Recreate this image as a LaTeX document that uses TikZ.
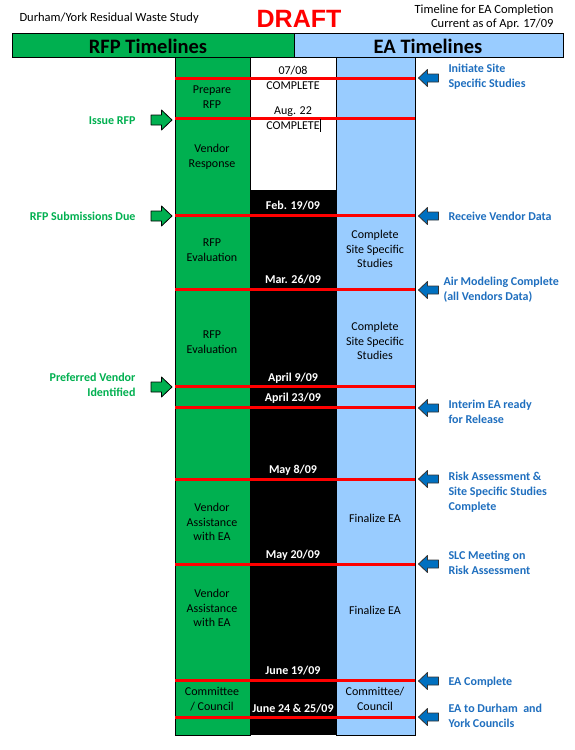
\documentclass[tikz,border=0pt]{standalone}
\usepackage{fontspec}
\setmainfont{Carlito}
\newfontfamily\draftfont{Liberation Sans}

\definecolor{rfpgreen}{RGB}{0,176,80}
\definecolor{eablue}{RGB}{153,204,255}
\definecolor{notblue}{RGB}{31,111,191}
\definecolor{arrblue}{RGB}{0,112,192}

\begin{document}
\begin{tikzpicture}[x=1pt, y=-1pt,
    phase/.style={font=\fontsize{12}{14.5}\selectfont, align=center, text=black},
    datelbl/.style={font=\fontsize{12}{14.5}\selectfont\bfseries, text=white},
    rfpnote/.style={font=\fontsize{12}{15}\selectfont\bfseries, text=rfpgreen, align=right, anchor=east},
    eanote/.style={font=\fontsize{12}{15}\selectfont\bfseries, text=notblue, align=left, anchor=west},
    garrow/.pic={\draw[black, thick, fill=rfpgreen, line join=round]
      (-10.5,-5) -- (0,-5) -- (0,-10) -- (10.5,0) -- (0,10) -- (0,5) -- (-10.5,5) -- cycle;},
    barrow/.pic={\draw[black!80, thick, fill=arrblue, line join=round]
      (10,-4) -- (-1,-4) -- (-1,-8.5) -- (-10,0) -- (-1,8.5) -- (-1,4) -- (10,4) -- cycle;},
  ]
    %% page frame
    \useasboundingbox (0,0) rectangle (575,750);
    \fill[white] (0,0) rectangle (575,750);

    %% --- heading ---
    \node[font=\fontsize{12.5}{14}\selectfont, anchor=west] (study) at (16,18)
      {Durham/York Residual Waste Study};
    \node[font=\draftfont\fontsize{25}{28}\selectfont\bfseries, text=red] (draft) at (299,19) {DRAFT};
    \node[font=\fontsize{12.5}{14}\selectfont, align=right, anchor=east] (asof) at (557,17)
      {Timeline for EA Completion\\Current as of Apr. 17/09};

    \fill[rfpgreen, draw=black, thin] (12,33) rectangle (294,57);
    \fill[eablue, draw=black, thin] (294,33) rectangle (563,57);
    \node[font=\fontsize{20.5}{22}\selectfont\bfseries] (rfphead) at (148,46) {RFP Timelines};
    \node[font=\fontsize{20.5}{22}\selectfont\bfseries] (eahead) at (428,46) {EA Timelines};

    %% --- columns ---
    \fill[rfpgreen, draw=black, thin] (175,57) rectangle (250,735);
    \fill[white, draw=black, thin] (250,57) rectangle (336,190);
    \fill[black] (250,190) rectangle (336,735);
    \fill[eablue, draw=black, thin] (336,57) rectangle (415,735);

    %% --- milestone lines ---
    \foreach \y in {78,118,215,289,386,407,479,564,680,717}
      \draw[red, line width=3pt] (175,\y) -- (415,\y);

    %% --- RFP phases ---
    \node[phase] (prep) at (212,97) {Prepare\\RFP};
    \node[phase] (vresp) at (212,157) {Vendor\\Response};
    \node[phase] (eval1) at (212,250) {RFP\\Evaluation};
    \node[phase] (eval2) at (212,342) {RFP\\Evaluation};
    \node[phase] (assist1) at (212,522) {Vendor\\Assistance\\with EA};
    \node[phase] (assist2) at (212,608) {Vendor\\Assistance\\with EA};
    \node[phase] (comm1) at (212,699) {Committee\\/ Council};

    %% --- dates ---
    \node[phase] (done1) at (293,78) {07/08\\COMPLETE};
    \node[phase] (done2) at (293,118) {Aug. 22\\COMPLETE};
    \draw[black, thin] (320.5,119) -- (320.5,132);
    \foreach \y/\d [count=\i] in {206/{Feb. 19/09}, 280/{Mar. 26/09}, 378/{April 9/09},
        398/{April 23/09}, 470/{May 8/09}, 555/{May 20/09}, 671/{June 19/09},
        709/{June 24 \& 25/09}}
      \node[datelbl] (date\i) at (293,\y) {\d};

    %% --- EA phases ---
    \node[phase] (site1) at (375,249) {Complete\\Site Specific\\Studies};
    \node[phase] (site2) at (375,341) {Complete\\Site Specific\\Studies};
    \node[phase] (fin1) at (375,518) {Finalize EA};
    \node[phase] (fin2) at (375,610) {Finalize EA};
    \node[phase] (comm2) at (375,699) {Committee/\\Council};

    %% --- RFP milestones (left) ---
    \foreach \y in {120,216,387}
      \pic at (161.5,\y) {garrow};
    \node[rfpnote] (issue) at (139,121) {Issue RFP};
    \node[rfpnote] (subdue) at (139,216) {RFP Submissions Due};
    \node[rfpnote] (prefv) at (139,385) {Preferred Vendor\\Identified};

    %% --- EA milestones (right) ---
    \foreach \y in {78,216,290,408,479,564,681,717}
      \pic at (428.5,\y) {barrow};
    \node[eanote] (initsite) at (445,77) {Initiate Site\\Specific Studies};
    \node[eanote] (recv) at (445,216) {Receive Vendor Data};
    \node[eanote] (airmod) at (440,290) {Air Modeling Complete\\(all Vendors Data)};
    \node[eanote] (interim) at (445,412) {Interim EA ready\\for Release};
    \node[eanote] (risk) at (445,492) {Risk Assessment \&\\Site Specific Studies\\Complete};
    \node[eanote] (slc) at (445,563) {SLC Meeting on\\Risk Assessment};
    \node[eanote] (eadone) at (445,682) {EA Complete};
    \node[eanote] (toreg) at (445,716) {EA to Durham\ \ and\\York Councils};
\end{tikzpicture}
\end{document}
